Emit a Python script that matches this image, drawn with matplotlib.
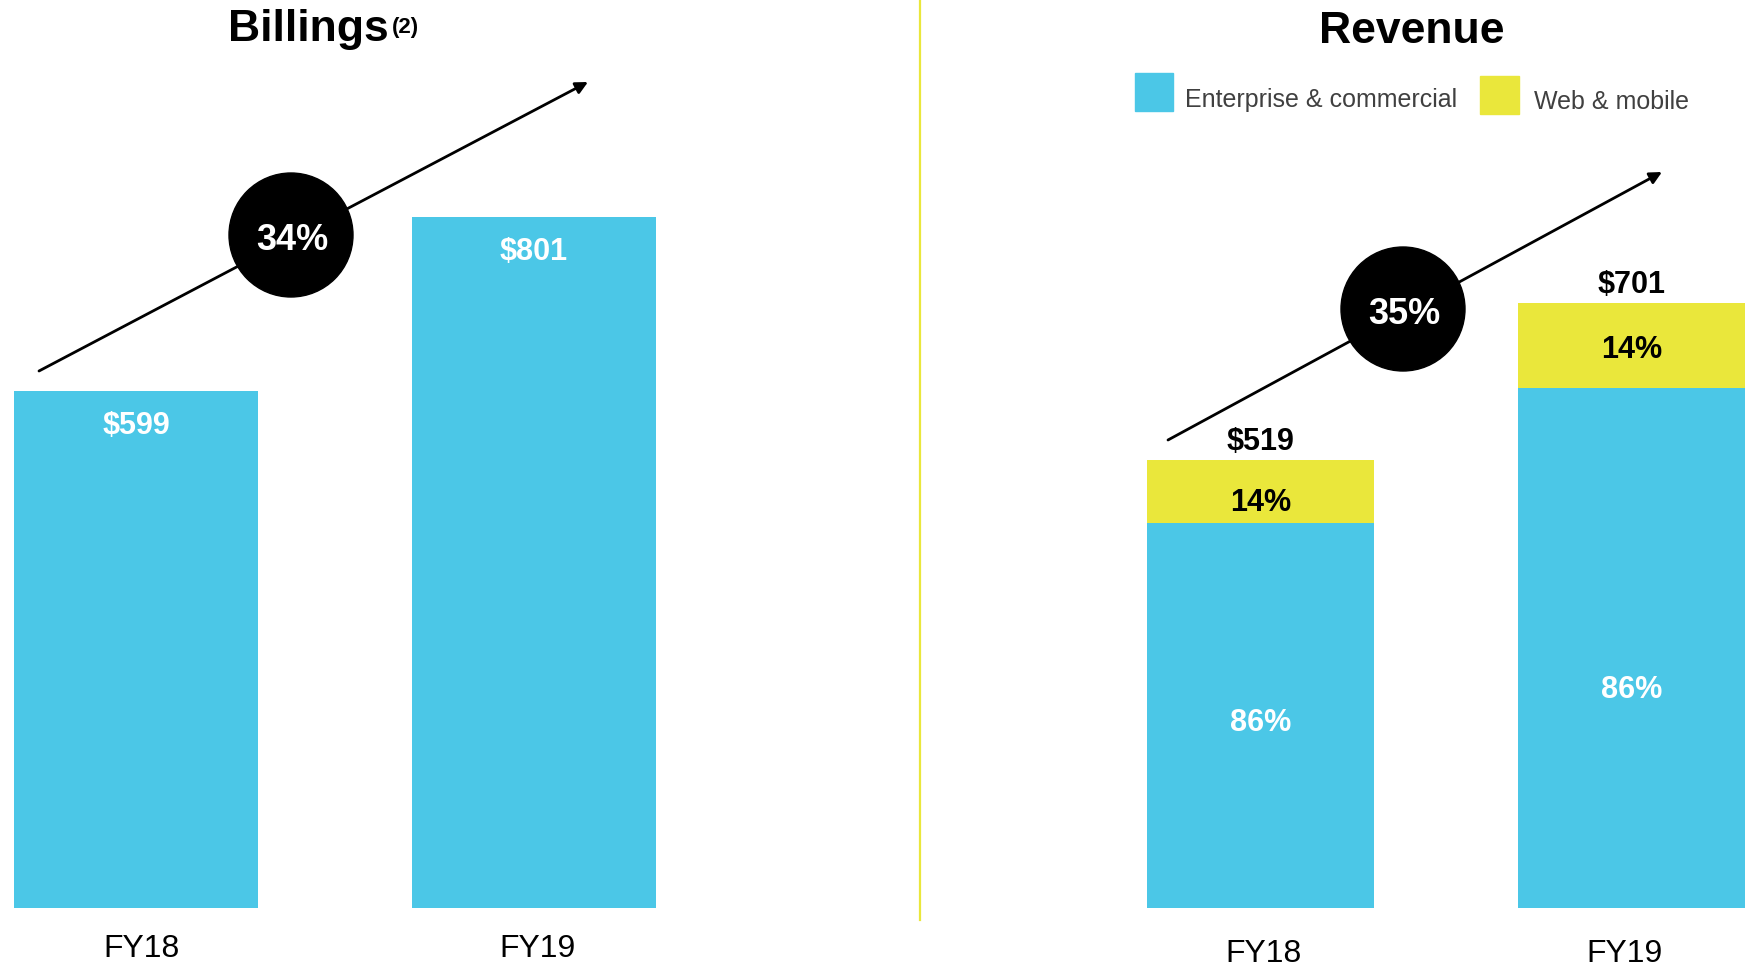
import matplotlib.pyplot as plt
from matplotlib.patches import Ellipse, Rectangle, FancyArrowPatch
from matplotlib.lines import Line2D

plt.rcParams['font.family'] = ['Liberation Sans', 'DejaVu Sans']

# data
years = ['FY18', 'FY19']
billings = [599, 801]
revenue_total = [519, 701]
enterprise = [446, 603]
web_mobile = [73, 98]
ent_share = ['86%', '86%']
web_share = ['14%', '14%']
billings_growth = '34%'
revenue_growth = '35%'

BLUE = '#4BC7E7'
YELLOW = '#EAE73B'

W, H = 1746, 966
fig = plt.figure(figsize=(W / 100, H / 100), dpi=100)


def fx(px):
    return px / W


def fy(py):
    return 1 - py / H


# both panels use the same vertical scale (px per $M)
bottom_px = 908
ytop = bottom_px / 0.8625
ax1 = fig.add_axes([0, fy(bottom_px), fx(880), bottom_px / H])
ax2 = fig.add_axes([fx(930), fy(bottom_px), fx(816), bottom_px / H])

# Billings
ax1.bar([0, 1], billings, width=0.613, color=BLUE)
ax1.set_xlim(-136 / 398, (880 - 136) / 398)
for i, v in enumerate(billings):
    ax1.annotate(f'${v}', (i, v), xytext=(0, -25), textcoords='offset points',
                 ha='center', va='center', color='white', fontsize=22, fontweight='bold')

# Revenue
ax2.bar([0, 1], enterprise, width=0.612, color=BLUE)
ax2.bar([0, 1], web_mobile, bottom=enterprise, width=0.612, color=YELLOW)
ax2.set_xlim(-(1260.5 - 930) / 371, (1746 - 1260.5) / 371)
ent_pos = [0.48, 0.42]
web_off = [-8, -3]
for i in range(2):
    ax2.annotate(f'${revenue_total[i]}', (i, revenue_total[i]), xytext=(0, 13.5),
                 textcoords='offset points', ha='center', va='center',
                 color='black', fontsize=22, fontweight='bold')
    ax2.annotate(web_share[i], (i, enterprise[i] + web_mobile[i] / 2), xytext=(0, web_off[i]),
                 textcoords='offset points', ha='center', va='center',
                 color='black', fontsize=22, fontweight='bold')
    ax2.text(i, enterprise[i] * ent_pos[i], ent_share[i], ha='center',
             va='center', color='white', fontsize=22, fontweight='bold')

for ax, ticks, pad in ((ax1, [0.015, 1.008], 19), (ax2, [0.007, 0.982], 22)):
    ax.set_ylim(0, ytop)
    ax.set_xticks(ticks, years)
    ax.tick_params(axis='x', length=0, pad=pad, labelsize=23)
    ax.set_yticks([])
    for s in ax.spines.values():
        s.set_visible(False)
    ax.patch.set_alpha(0)

# titles
fig.text(fx(389), fy(41), 'Billings', ha='right', va='baseline', fontsize=32, fontweight='bold')
fig.text(fx(392), fy(33), '(2)', ha='left', va='baseline', fontsize=16, fontweight='bold')
fig.text(fx(1412), fy(43), 'Revenue', ha='center', va='baseline', fontsize=32, fontweight='bold')

# legend
fig.add_artist(Rectangle((fx(1135), fy(111)), fx(38), 38 / H, color=BLUE, transform=fig.transFigure))
fig.text(fx(1185), fy(100), 'Enterprise & commercial', ha='left', va='center', fontsize=18, color='#404040')
fig.add_artist(Rectangle((fx(1480), fy(114)), fx(39), 38 / H, color=YELLOW, transform=fig.transFigure))
fig.text(fx(1534), fy(102), 'Web & mobile', ha='left', va='center', fontsize=18, color='#404040')

# divider
fig.add_artist(Line2D([fx(920), fx(920)], [fy(0), fy(920)], color=YELLOW, lw=1.6))

# growth arrows and circles
for (x0, y0, x1, y1), (cx, cy), txt in (((39, 371, 588, 82), (291, 235), billings_growth),
                                          ((1168, 440, 1662, 172), (1403, 309), revenue_growth)):
    fig.add_artist(FancyArrowPatch((fx(x0), fy(y0)), (fx(x1), fy(y1)), transform=fig.transFigure,
                                   arrowstyle='-|>', mutation_scale=18, lw=2, color='black',
                                   shrinkA=0, shrinkB=0))
    fig.add_artist(Ellipse((fx(cx), fy(cy)), 2 * 62 / W, 2 * 62 / H, color='black',
                           transform=fig.transFigure, zorder=5))
    fig.text(fx(cx + 1), fy(cy + 6), txt, ha='center', va='center', color='white',
             fontsize=26, fontweight='bold', zorder=6)

fig.savefig('out.png', dpi=100)
